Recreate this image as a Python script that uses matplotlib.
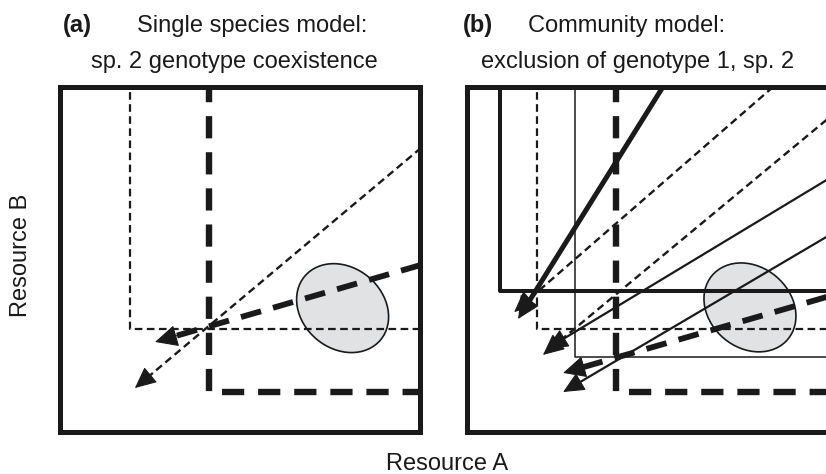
import matplotlib
matplotlib.use('Agg')
import matplotlib.pyplot as plt
from matplotlib.patches import Ellipse
import numpy as np

plt.rcParams['font.family'] = ['Liberation Sans', 'DejaVu Sans']
plt.rcParams['lines.scale_dashes'] = False

# ---------------- data (resource space, arbitrary units) ----------------
XMAX, YMAX = 100.0, 95.8

# Panel (a): single species model
a_zngi_rx = [19.4, 41.4]          # R*_A of genotype 1 (thin dashed), genotype 2 (thick dashed)
a_zngi_ry = [28.6, 11.1]          # R*_B
a_vec_x0 = [100.3, 100.3]         # consumption vectors: start
a_vec_y0 = [78.9, 46.4]
a_vec_x1 = [20.8, 26.4]           # consumption vectors: tip
a_vec_y1 = [12.2, 25.0]

# Panel (b): community model
b_zngi_rx = [9.2, 19.4, 29.9, 41.4]   # thick solid, thin dashed, thin solid, thick dashed
b_zngi_ry = [39.2, 28.7, 20.7, 11.1]
b_vec_x0 = [54.4, 85.0, 99.9, 99.9, 99.9, 99.9]
b_vec_y0 = [95.8, 95.8, 86.7, 70.0, 54.2, 37.5]
b_vec_x1 = [14.2, 13.1, 21.1, 22.2, 26.7, 26.7]
b_vec_y1 = [31.4, 33.3, 21.4, 23.1, 11.1, 16.4]

# supply point distribution (ellipse)
supply_cx = [78.5, 78.6]
supply_cy = [34.4, 34.6]
supply_w, supply_h, supply_angle = 27.5, 22.5, -40

# ---------------- styles ----------------
THIN_DASH = dict(lw=1.6, dashes=(5.5, 3.2))
THICK_DASH = dict(lw=4.6, dashes=(16, 10))
THICK_SOLID = dict(lw=2.9)
THIN_SOLID = dict(lw=1.1)

a_zngi_styles = [THIN_DASH, THICK_DASH]
a_vec_styles = [dict(lw=1.7, dashes=(5.5, 3.2)), dict(lw=4.2, dashes=(15, 9))]
b_zngi_styles = [THICK_SOLID, THIN_DASH, THIN_SOLID, THICK_DASH]
b_vec_styles = [dict(lw=3.6), dict(lw=1.7, dashes=(5.5, 3.2)), dict(lw=1.7, dashes=(5.5, 3.2)),
                dict(lw=1.6), dict(lw=1.6), dict(lw=4.2, dashes=(15, 9))]

W, H = 826, 474
fig = plt.figure(figsize=(W / 100, H / 100), dpi=100)


def make_axes(left_px):
    ax = fig.add_axes([left_px / W, 42 / H, 360 / W, 345 / H])
    ax.set_xlim(0, XMAX)
    ax.set_ylim(0, YMAX)
    ax.set_xticks([])
    ax.set_yticks([])
    for s in ax.spines.values():
        s.set_linewidth(3.6)
        s.set_color('#1a1a1a')
        s.set_zorder(5)
    return ax


def draw_zngi(ax, rx, ry, style):
    ax.plot([rx, rx, XMAX + 2], [YMAX + 2, ry, ry], color='#1a1a1a',
            solid_capstyle='butt', dash_capstyle='butt', zorder=2, **style)


def draw_vector(ax, x0, y0, x1, y1, style):
    d = np.array([x0 - x1, y0 - y1])
    u = d / np.hypot(*d)
    thick = style['lw'] > 3
    back = 4.0
    ax.plot([x0, x1 + u[0] * back], [y0, y1 + u[1] * back], color='#1a1a1a',
            solid_capstyle='butt', dash_capstyle='butt', zorder=3, **style)
    hl, hw = (14.5, 7.0) if thick else (13.5, 6.3)
    ax.annotate('', xy=(x1, y1), xytext=(x1 + u[0] * 6.5, y1 + u[1] * 6.5),
                arrowprops=dict(arrowstyle=f'-|>,head_length={hl},head_width={hw}',
                                mutation_scale=1, lw=0.8, color='#1a1a1a',
                                shrinkA=0, shrinkB=0), zorder=4)


def draw_supply(ax, cx, cy):
    ax.add_patch(Ellipse((cx, cy), supply_w, supply_h, angle=supply_angle,
                         facecolor='#e1e2e4', edgecolor='#1a1a1a', lw=1.2, zorder=1))


ax_a = make_axes(60)
draw_supply(ax_a, supply_cx[0], supply_cy[0])
for rx, ry, st in zip(a_zngi_rx, a_zngi_ry, a_zngi_styles):
    draw_zngi(ax_a, rx, ry, st)
for x0, y0, x1, y1, st in zip(a_vec_x0, a_vec_y0, a_vec_x1, a_vec_y1, a_vec_styles):
    draw_vector(ax_a, x0, y0, x1, y1, st)

ax_b = make_axes(467)
draw_supply(ax_b, supply_cx[1], supply_cy[1])
for rx, ry, st in zip(b_zngi_rx, b_zngi_ry, b_zngi_styles):
    draw_zngi(ax_b, rx, ry, st)
for x0, y0, x1, y1, st in zip(b_vec_x0, b_vec_y0, b_vec_x1, b_vec_y1, b_vec_styles):
    draw_vector(ax_b, x0, y0, x1, y1, st)

# ---------------- text ----------------
FS = 17
col = '#1a1a1a'
fig.text(63 / W, 1 - 32 / H, '(a)', fontsize=FS, fontweight='bold', va='baseline', color=col)
fig.text(137 / W, 1 - 32 / H, 'Single species model:', fontsize=FS, va='baseline', color=col)
fig.text(234 / W, 1 - 68 / H, 'sp. 2 genotype coexistence', fontsize=FS, va='baseline',
         ha='center', color=col)
fig.text(463 / W, 1 - 32 / H, '(b)', fontsize=FS, fontweight='bold', va='baseline', color=col)
fig.text(528 / W, 1 - 32 / H, 'Community model:', fontsize=FS, va='baseline', color=col)
fig.text(638 / W, 1 - 68 / H, 'exclusion of genotype 1, sp. 2', fontsize=FS, va='baseline',
         ha='center', color=col)
fig.text(21 / W, 1 - 255 / H, 'Resource B', fontsize=FS, rotation=90, va='center',
         ha='center', color=col)
fig.text(447 / W, 1 - 470 / H, 'Resource A', fontsize=FS, va='baseline', ha='center', color=col)

fig.savefig('out.png', dpi=100, facecolor='white')
